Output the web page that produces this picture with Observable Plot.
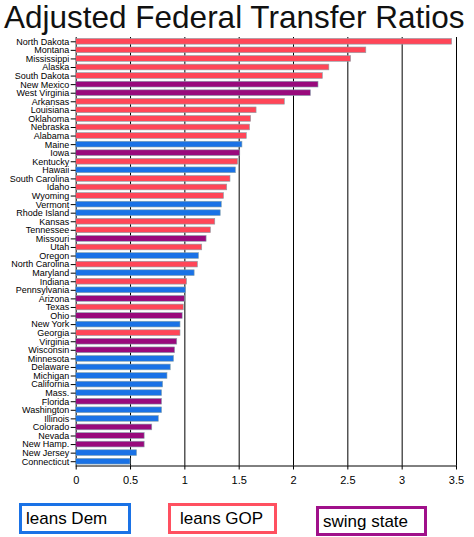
<!DOCTYPE html>
<html>
<head>
<meta charset="utf-8">
<script src="https://cdn.jsdelivr.net/npm/d3@7"></script>
<script src="https://cdn.jsdelivr.net/npm/@observablehq/plot@0.6"></script>
<style>
  html, body { margin: 0; padding: 0; background: #fff; width: 474px; height: 537px; overflow: hidden; }
  body { position: relative; font-family: "Liberation Sans", Arial, sans-serif; }
  #title { position: absolute; left: 4px; top: 0px; font-size: 31.5px; line-height: 34px; color: #111; white-space: nowrap; }
  #chart { position: absolute; left: 0; top: 35px; }
  .lg { position: absolute; box-sizing: border-box; border: 3px solid; font-size: 17px; color: #000; line-height: 25px; padding-left: 4px; white-space: nowrap; }
</style>
</head>
<body>
<div id="title">Adjusted Federal Transfer Ratios</div>
<div id="chart"></div>
<div id="legend"></div>
<script>
const states = ["North Dakota","Montana","Mississippi","Alaska","South Dakota","New Mexico","West Virginia","Arkansas","Louisiana","Oklahoma",
  "Nebraska","Alabama","Maine","Iowa","Kentucky","Hawaii","South Carolina","Idaho","Wyoming","Vermont",
  "Rhode Island","Kansas","Tennessee","Missouri","Utah","Oregon","North Carolina","Maryland","Indiana","Pennsylvania",
  "Arizona","Texas","Ohio","New York","Georgia","Virginia","Wisconsin","Minnesota","Delaware","Michigan",
  "California","Mass.","Florida","Washington","Illinois","Colorado","Nevada","New Hamp.","New Jersey","Connecticut"];
const ratios = [3.46,2.67,2.53,2.33,2.27,2.23,2.16,1.92,1.66,1.61,
  1.60,1.57,1.53,1.51,1.49,1.47,1.42,1.39,1.36,1.34,
  1.33,1.28,1.24,1.20,1.16,1.13,1.12,1.09,1.02,1.01,
  1.00,0.99,0.98,0.96,0.96,0.93,0.91,0.90,0.87,0.84,
  0.80,0.79,0.79,0.79,0.76,0.70,0.63,0.63,0.56,0.50];
const leans = ["GOP","GOP","GOP","GOP","GOP","swing","swing","GOP","GOP","GOP",
  "GOP","GOP","Dem","swing","GOP","Dem","GOP","GOP","GOP","Dem",
  "Dem","GOP","GOP","swing","GOP","Dem","GOP","Dem","GOP","Dem",
  "swing","GOP","swing","Dem","GOP","swing","swing","Dem","Dem","Dem",
  "Dem","Dem","swing","Dem","Dem","swing","swing","swing","Dem","Dem"];
const groupKeys = ["Dem","GOP","swing"];
const groupLabels = ["leans Dem","leans GOP","swing state"];
const barColors = ["#1a72e6","#ff4658","#990a7c"];
const legendColors = ["#1a72e6","#ff5060","#a0108a"];
const xTicks = [0,0.5,1,1.5,2,2.5,3,3.5];

const data = states.map((s, i) => ({state: s, value: ratios[i], lean: leans[i]}));

const chart = Plot.plot({
  width: 474,
  height: 460,
  marginLeft: 75.7,
  marginRight: 18,
  marginTop: 2,
  marginBottom: 29.5,
  style: {fontFamily: "'Liberation Sans', Arial, sans-serif", color: "#000", background: "#fff"},
  x: {domain: [0, 3.5], ticks: xTicks, tickFormat: d => String(d), label: null},
  y: {domain: states, paddingInner: 0.33, paddingOuter: 0.165, round: false, label: null},
  color: {domain: groupKeys, range: barColors},
  marks: [
    Plot.ruleX(xTicks, {stroke: "#000", strokeWidth: 1}),
    Plot.barX(data, {x: "value", y: "state", fill: "lean", stroke: "#88a4ac", strokeWidth: 0.6}),
    Plot.frame({anchor: "bottom", stroke: "#000"}),
    Plot.axisX({ticks: xTicks, tickFormat: d => String(d), tickSize: 4, tickPadding: 6, fontSize: 11, label: null, stroke: "#000"}),
    Plot.axisY({tickSize: 5, tickPadding: 2, fontSize: 9, label: null, stroke: "#000"})
  ]
});
document.getElementById("chart").appendChild(chart);

const boxes = [
  {left: 19, top: 503, w: 112, h: 31},
  {left: 168, top: 503, w: 109, h: 31},
  {left: 316, top: 506, w: 111, h: 30}
];
const legend = document.getElementById("legend");
groupLabels.forEach((lab, i) => {
  const d = document.createElement("div");
  d.className = "lg";
  d.textContent = lab;
  d.style.left = boxes[i].left + "px";
  d.style.top = boxes[i].top + "px";
  d.style.width = boxes[i].w + "px";
  d.style.height = boxes[i].h + "px";
  d.style.borderColor = legendColors[i];
  if (i === 1) d.style.paddingLeft = "9px";
  legend.appendChild(d);
});
</script>
</body>
</html>
